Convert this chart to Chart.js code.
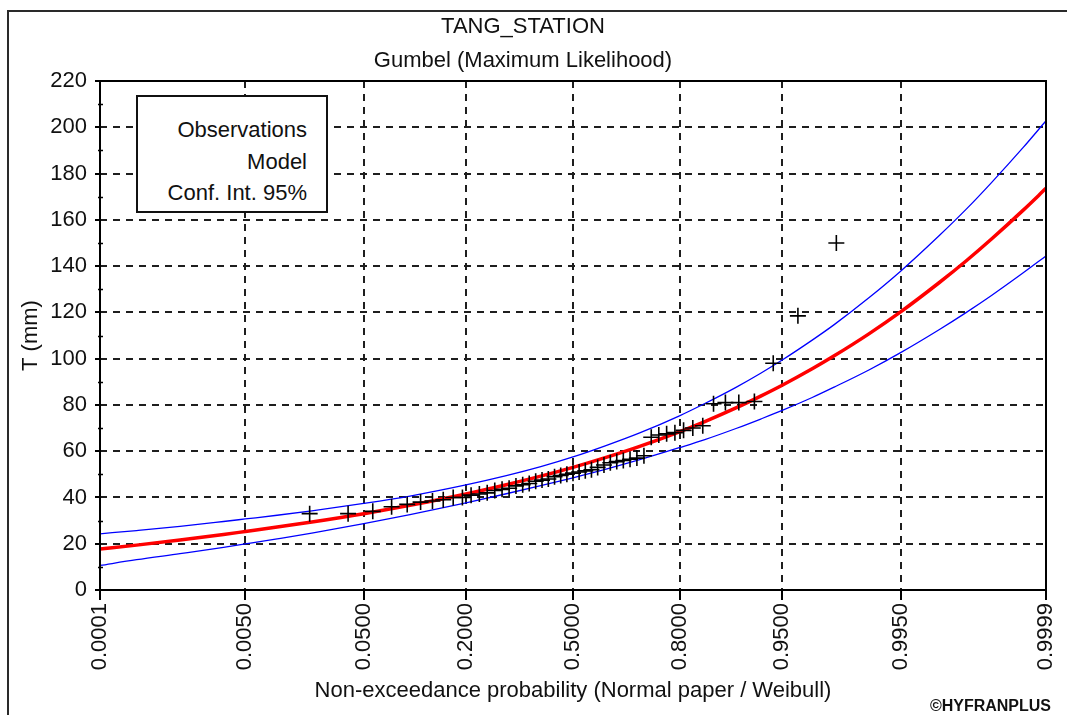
<!DOCTYPE html>
<html>
<head>
<meta charset="utf-8">
<script src="https://cdn.jsdelivr.net/npm/chart.js@4.4.1/dist/chart.umd.min.js"></script>
<style>
html,body{margin:0;padding:0;background:#fff;overflow:hidden;}
#wrap{position:relative;width:1067px;height:715px;overflow:hidden;}
#chart{position:absolute;left:0;top:0;}
#frame{position:absolute;left:7px;top:10px;width:1200px;height:800px;border-left:2px solid #2a2a2a;border-top:2px solid #2a2a2a;pointer-events:none;}
#legend{position:absolute;left:136px;top:95px;width:192px;height:118px;box-sizing:border-box;border:2px solid #111;background:#fff;text-align:right;padding:17px 19px 0 0;font:22px "Liberation Sans",Arial,sans-serif;line-height:31.5px;color:#111;}
#copy{position:absolute;right:16px;top:697px;font:bold 16px "Liberation Sans",Arial,sans-serif;color:#111;line-height:18px;}
</style>
</head>
<body>
<div id="wrap">
  <canvas id="chart" width="1067" height="715"></canvas>
  <div id="frame"></div>
  <div id="legend"><div>Observations</div><div>Model</div><div>Conf. Int. 95%</div></div>
  <div id="copy">©HYFRANPLUS</div>
</div>
<script>
// ---------- data ----------
const chartTitle = 'TANG_STATION';
const chartSubtitle = 'Gumbel (Maximum Likelihood)';
const xAxisTitle = 'Non-exceedance probability (Normal paper / Weibull)';
const yAxisTitle = 'T (mm)';

const xTickProbs  = [0.0001, 0.005, 0.05, 0.2, 0.5, 0.8, 0.95, 0.995, 0.9999];
const xTickLabels = ['0.0001', '0.0050', '0.0500', '0.2000', '0.5000', '0.8000', '0.9500', '0.9950', '0.9999'];
const yMinorTicks = [10, 30, 50, 70, 90, 110, 130, 150, 170, 190, 210];

// observations (Weibull plotting positions, sorted)
const obsProb = [0.0192, 0.0385, 0.0577, 0.0769, 0.0962, 0.1154, 0.1346, 0.1538, 0.1731, 0.1923,
                 0.2115, 0.2308, 0.2500, 0.2692, 0.2885, 0.3077, 0.3269, 0.3462, 0.3654, 0.3846,
                 0.4038, 0.4231, 0.4423, 0.4615, 0.4808, 0.5000, 0.5192, 0.5385, 0.5577, 0.5769,
                 0.5962, 0.6154, 0.6346, 0.6538, 0.6731, 0.6923, 0.7115, 0.7308, 0.7500, 0.7692,
                 0.7885, 0.8077, 0.8269, 0.8462, 0.8654, 0.8846, 0.9038, 0.9231, 0.9423, 0.9615, 0.9808];
const obsValue = [33, 33, 34, 36, 37, 38, 38.5, 39, 40, 40,
                  41, 41.5, 42, 43, 43.5, 44, 45, 45.5, 46, 47,
                  47.5, 48, 49, 49.5, 50, 50.5, 51, 51.5, 52, 53,
                  54, 55, 55.5, 56, 56.5, 57, 58, 66, 67, 67.5,
                  68, 69, 70, 71, 80.5, 81, 81, 81.5, 98, 118.5, 150];

// model curve and 95% confidence interval
const modelProb = [0.0001, 0.0003, 0.001, 0.003, 0.005, 0.01, 0.02, 0.05, 0.1, 0.2,
                   0.3, 0.4, 0.5, 0.6, 0.7, 0.8, 0.85, 0.9, 0.93, 0.95,
                   0.97, 0.98, 0.99, 0.995, 0.998, 0.999, 0.9995, 0.9998, 0.9999];
const modelValue = [17.7, 19.4, 21.6, 24.0, 25.3, 27.2, 29.4, 33.0, 36.6, 41.5,
                    45.5, 49.2, 53.0, 57.2, 62.1, 68.5, 72.8, 78.7, 83.8, 88.5,
                    95.6, 101.2, 110.7, 120.2, 132.8, 142.2, 151.7, 164.2, 173.6];
const ciUpper = [24.3, 25.7, 27.5, 29.6, 30.7, 32.3, 34.2, 37.4, 40.6, 45.4,
                 49.4, 53.3, 57.5, 62.3, 67.9, 75.4, 80.6, 87.6, 93.7, 99.4,
                 108.0, 114.7, 126.3, 137.8, 153.1, 164.5, 176.1, 191.3, 202.8];
const ciLower = [10.6, 13.1, 15.7, 18.4, 19.9, 22.1, 24.6, 28.7, 32.6, 37.7,
                 41.6, 45.1, 48.5, 52.1, 56.3, 61.6, 65.0, 69.8, 73.9, 77.6,
                 83.2, 87.7, 95.1, 102.6, 112.5, 119.9, 127.3, 137.1, 144.4];

// ---------- normal probability paper scale ----------
function probit(p) {
  const a = [-3.969683028665376e+01, 2.209460984245205e+02, -2.759285104469687e+02, 1.383577518672690e+02, -3.066479806614716e+01, 2.506628277459239e+00];
  const b = [-5.447609879822406e+01, 1.615858368580409e+02, -1.556989798598866e+02, 6.680131188771972e+01, -1.328068155288572e+01];
  const c = [-7.784894002430293e-03, -3.223964580411365e-01, -2.400758277161838e+00, -2.549732539343734e+00, 4.374664141464968e+00, 2.938163982698783e+00];
  const d = [7.784695709041462e-03, 3.224671290700398e-01, 2.445134137142996e+00, 3.754408661907416e+00];
  const pl = 0.02425, ph = 1 - pl;
  let q, r;
  if (p < pl) {
    q = Math.sqrt(-2 * Math.log(p));
    return (((((c[0]*q+c[1])*q+c[2])*q+c[3])*q+c[4])*q+c[5]) / ((((d[0]*q+d[1])*q+d[2])*q+d[3])*q+1);
  }
  if (p <= ph) {
    q = p - 0.5; r = q * q;
    return (((((a[0]*r+a[1])*r+a[2])*r+a[3])*r+a[4])*r+a[5])*q / (((((b[0]*r+b[1])*r+b[2])*r+b[3])*r+b[4])*r+1);
  }
  q = Math.sqrt(-2 * Math.log(1 - p));
  return -(((((c[0]*q+c[1])*q+c[2])*q+c[3])*q+c[4])*q+c[5]) / ((((d[0]*q+d[1])*q+d[2])*q+d[3])*q+1);
}

class ProbitScale extends Chart.LinearScale {
  determineDataLimits() {
    this.min = probit(xTickProbs[0]);
    this.max = probit(xTickProbs[xTickProbs.length - 1]);
  }
  buildTicks() {
    return xTickProbs.map(v => ({ value: v }));
  }
  getPixelForValue(v) {
    if (v === null || v === undefined) return NaN;
    return super.getPixelForValue(probit(v));
  }
}
ProbitScale.id = 'probit';
ProbitScale.defaults = {};
Chart.register(ProbitScale);

// ---------- plugins ----------
const framePlugin = {
  id: 'plotFrame',
  afterDraw(chart) {
    const { ctx, chartArea: ca, scales } = chart;
    ctx.save();
    ctx.strokeStyle = '#000';
    ctx.lineWidth = 2;
    ctx.setLineDash([]);
    ctx.strokeRect(ca.left, ca.top, ca.right - ca.left, ca.bottom - ca.top);
    ctx.lineWidth = 1.5;
    ctx.beginPath();
    yMinorTicks.forEach(v => {
      const y = Math.round(scales.y.getPixelForValue(v)) + 0.5;
      ctx.moveTo(ca.left - 2, y);
      ctx.lineTo(ca.left + 3, y);
    });
    ctx.stroke();
    ctx.restore();
  }
};

const FONT = "'Liberation Sans', Arial, sans-serif";
const TXT = '#111';

const toPts = (xs, ys) => xs.map((x, i) => ({ x: x, y: ys[i] }));

new Chart(document.getElementById('chart'), {
  type: 'scatter',
  data: {
    datasets: [
      {
        label: 'Observations',
        data: toPts(obsProb, obsValue),
        pointStyle: 'cross',
        pointRadius: 8,
        pointBorderWidth: 1.6,
        borderColor: '#000',
        backgroundColor: '#000',
        showLine: false,
        order: 0
      },
      {
        label: 'Model',
        data: toPts(modelProb, modelValue),
        showLine: true,
        borderColor: '#ff0000',
        borderWidth: 3.5,
        pointRadius: 0,
        cubicInterpolationMode: 'monotone',
        order: 1
      },
      {
        label: 'Conf. Int. 95% (upper)',
        data: toPts(modelProb, ciUpper),
        showLine: true,
        borderColor: '#0000ff',
        borderWidth: 1.3,
        pointRadius: 0,
        cubicInterpolationMode: 'monotone',
        order: 2
      },
      {
        label: 'Conf. Int. 95% (lower)',
        data: toPts(modelProb, ciLower),
        showLine: true,
        borderColor: '#0000ff',
        borderWidth: 1.3,
        pointRadius: 0,
        cubicInterpolationMode: 'monotone',
        order: 3
      }
    ]
  },
  options: {
    responsive: false,
    devicePixelRatio: 1,
    animation: false,
    events: [],
    layout: { padding: { left: 0, right: 21, top: 0, bottom: 0 } },
    plugins: {
      legend: { display: false },
      tooltip: { enabled: false },
      title: {
        display: true,
        text: chartTitle,
        color: TXT,
        font: { family: FONT, size: 22, weight: 'normal', lineHeight: 1.2 },
        padding: { top: 14, bottom: 0 }
      },
      subtitle: {
        display: true,
        text: chartSubtitle,
        color: TXT,
        font: { family: FONT, size: 22, weight: 'normal', lineHeight: 1.2 },
        padding: { top: 7, bottom: 7.2 }
      }
    },
    scales: {
      x: {
        type: 'probit',
        position: 'bottom',
        afterFit(s) { s.height = 125; s.paddingLeft = 0; s.paddingRight = 0; },
        ticks: {
          autoSkip: false,
          minRotation: 90,
          maxRotation: 90,
          padding: 3,
          color: TXT,
          font: { family: FONT, size: 22 },
          callback: (v, i) => xTickLabels[i]
        },
        grid: {
          color: '#1e1e1e',
          lineWidth: 2,
          tickLength: 10,
          tickColor: '#000',
          tickWidth: 2
        },
        border: { display: false, dash: [7, 6] },
        title: {
          display: true,
          text: xAxisTitle,
          color: TXT,
          font: { family: FONT, size: 22, lineHeight: 1.2 },
          padding: { top: 0, bottom: 11 }
        }
      },
      y: {
        type: 'linear',
        min: 0,
        max: 220,
        afterFit(s) { s.width = 100; s.paddingTop = 0; s.paddingBottom = 0; },
        ticks: {
          stepSize: 20,
          autoSkip: false,
          padding: 8,
          color: TXT,
          font: { family: FONT, size: 22 }
        },
        grid: {
          color: '#1e1e1e',
          lineWidth: 2,
          tickLength: 5,
          tickColor: '#000',
          tickWidth: 2
        },
        border: { display: false, dash: [7, 6] },
        title: {
          display: true,
          text: yAxisTitle,
          color: TXT,
          font: { family: FONT, size: 22, lineHeight: 1.2 },
          padding: { top: 18, bottom: 0 }
        }
      }
    }
  },
  plugins: [framePlugin]
});
</script>
</body>
</html>
